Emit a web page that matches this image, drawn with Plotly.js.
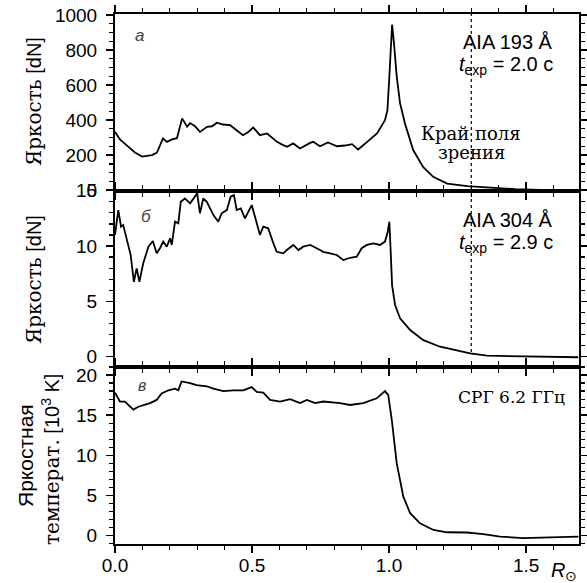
<!DOCTYPE html>
<html><head><meta charset="utf-8">
<script src="https://cdn.plot.ly/plotly-3.0.1.min.js"></script>
<style>body{margin:0;background:#fff}#plot{width:587px;height:583px}</style>
</head><body><div id="plot"></div>
<script>
// Panel а: AIA 193 Å brightness [dN]
const xA = [0.000,0.018,0.047,0.073,0.099,0.117,0.135,0.153,0.175,0.190,0.208,0.226,0.245,0.263,0.274,0.292,0.310,0.336,0.354,0.372,0.394,0.420,0.445,0.467,0.485,0.504,0.529,0.555,0.573,0.591,0.610,0.628,0.650,0.675,0.712,0.723,0.748,0.777,0.810,0.839,0.865,0.887,0.920,0.956,0.985,0.994,1.001,1.006,1.011,1.018,1.028,1.040,1.058,1.088,1.124,1.161,1.212,1.285,1.369,1.460,1.551];
const yA = [333,290,250,215,192,198,200,215,295,276,290,297,410,362,383,365,333,362,365,385,375,371,343,314,330,358,314,324,300,276,260,248,267,238,270,276,251,272,251,255,263,232,276,324,400,457,648,838,945,838,648,497,381,229,133,76,38,23,13,6,2];
// Panel б: AIA 304 Å brightness [dN]
const xB = [0.000,0.006,0.012,0.022,0.030,0.036,0.049,0.057,0.069,0.079,0.089,0.103,0.122,0.138,0.152,0.164,0.176,0.189,0.201,0.207,0.219,0.231,0.240,0.255,0.274,0.292,0.300,0.310,0.322,0.335,0.347,0.359,0.377,0.389,0.408,0.422,0.434,0.444,0.459,0.474,0.499,0.517,0.529,0.541,0.559,0.578,0.590,0.614,0.627,0.651,0.669,0.687,0.712,0.736,0.760,0.785,0.809,0.833,0.858,0.882,0.900,0.919,0.943,0.967,0.985,0.994,1.001,1.006,1.011,1.022,1.040,1.077,1.125,1.186,1.247,1.296,1.357,1.489,1.588,1.690];
const yB = [11.0,12.2,13.25,11.75,11.9,11.3,9.94,9.2,6.77,7.98,6.77,8.44,9.94,10.45,9.34,9.8,10.4,9.94,10.7,10.1,12.2,12.05,14.0,14.3,13.86,14.46,14.76,12.96,14.3,14.0,13.4,12.8,12.2,12.96,13.25,14.46,14.6,13.25,13.4,12.5,13.7,12.05,11.0,11.75,11.6,10.24,9.48,9.34,9.64,10.1,9.64,9.94,10.1,9.8,9.48,9.34,9.19,8.73,8.94,9.03,9.8,10.1,10.24,10.1,10.4,11.15,12.2,9.48,6.47,4.67,3.46,2.41,1.5,0.9,0.53,0.3,0.09,0.06,0.0,-0.05];
// Panel в: SRG 6.2 GHz brightness temperature [10^3 K]
const xC = [0.000,0.018,0.036,0.067,0.085,0.103,0.128,0.152,0.170,0.195,0.219,0.231,0.243,0.274,0.298,0.335,0.359,0.395,0.432,0.468,0.499,0.517,0.541,0.566,0.602,0.639,0.675,0.700,0.730,0.760,0.821,0.858,0.906,0.955,0.985,0.997,1.010,1.028,1.052,1.077,1.113,1.162,1.211,1.284,1.344,1.405,1.490,1.588,1.691];
const yC = [17.8,16.7,16.7,15.7,16.05,16.27,16.5,16.9,17.7,18.1,18.3,18.1,19.2,19.0,18.75,18.6,18.3,18.0,18.1,18.1,18.5,17.9,17.8,16.9,16.7,17.0,16.5,16.9,16.5,16.7,16.5,16.27,16.5,17.1,18.0,17.5,14.4,9.0,4.86,2.8,1.55,0.72,0.43,0.4,0.21,-0.1,-0.3,-0.2,-0.1];

const xTickVals = [0.0, 0.5, 1.0, 1.5];
const xTickText = ['0.0', '0.5', '1.0', '1.5'];

const line = {color:'#000', width:1.8};
const traces = [
  {x:xA, y:yA, xaxis:'x', yaxis:'y', mode:'lines', line:line, showlegend:false, hoverinfo:'skip'},
  {x:xB, y:yB, xaxis:'x2', yaxis:'y2', mode:'lines', line:line, showlegend:false, hoverinfo:'skip'},
  {x:xC, y:yC, xaxis:'x3', yaxis:'y3', mode:'lines', line:line, showlegend:false, hoverinfo:'skip'}
];

const tickFont = {family:'Liberation Sans, Arial, sans-serif', size:19, color:'#000'};
function xax(anchor, labels){
  return {anchor:anchor, domain:[0,1], range:[0,1.693], tickvals:xTickVals, ticktext:xTickText,
    showticklabels:labels, ticks:'outside', ticklen:7, tickwidth:1.5, tickcolor:'#000',
    minor:{dtick:0.1, ticks:'outside', ticklen:4, tickwidth:1.2, tickcolor:'#000'},
    showline:true, linecolor:'#000', linewidth:2, mirror:'ticks', showgrid:false, zeroline:false,
    tickfont:tickFont, ticklabelstandoff:-4};
}
function yax(anchor, dom, range, dtick, mdtick){
  return {anchor:anchor, domain:dom, range:range, dtick:dtick, tick0:0,
    ticks:'outside', ticklen:7, tickwidth:1.5, tickcolor:'#000',
    minor:{dtick:mdtick, tick0:0, ticks:'outside', ticklen:4, tickwidth:1.2, tickcolor:'#000'},
    showline:true, linecolor:'#000', linewidth:2, mirror:'ticks', showgrid:false, zeroline:false,
    tickfont:tickFont, ticklabelstandoff:5};
}

const serif = 'DejaVu Serif, serif';
const sans = 'Liberation Sans, Arial, sans-serif';
function ann(o){ return Object.assign({showarrow:false, xanchor:'center', yanchor:'middle', font:{family:sans, size:20, color:'#000'}}, o); }

const annotations = [
  ann({xref:'x', yref:'y', x:0.09, y:886, text:'<i>а</i>', font:{family:sans, size:17, color:'#444'}}),
  ann({xref:'x2', yref:'y2', x:0.115, y:12.65, text:'<i>б</i>', font:{family:sans, size:17, color:'#444'}}),
  ann({xref:'x3', yref:'y3', x:0.097, y:18.75, text:'<i>в</i>', font:{family:sans, size:16, color:'#444'}}),
  ann({xref:'x', yref:'y', x:0.83, y:-5, text:'<i>t</i>', font:{family:'Liberation Serif, serif', size:17, color:'#222'}}),
  ann({xref:'paper', yref:'paper', x:0.948, xanchor:'right', y:(544-42)/530, text:'AIA 193 Å'}),
  ann({xref:'paper', yref:'paper', x:0.948, xanchor:'right', y:(544-66)/530, text:'<i>t</i><sub>exp</sub> = 2.0 c'}),
  ann({xref:'paper', yref:'paper', x:0.948, xanchor:'right', y:(544-220)/530, text:'AIA 304 Å'}),
  ann({xref:'paper', yref:'paper', x:0.948, xanchor:'right', y:(544-243)/530, text:'<i>t</i><sub>exp</sub> = 2.9 c'}),
  ann({xref:'paper', yref:'paper', x:(567-115)/464, xanchor:'right', y:(544-397)/530, text:'СРГ 6.2 ГГц', font:{family:serif, size:17, color:'#000'}}),
  ann({xref:'x', yref:'y', x:1.3, y:326, text:'Край поля', font:{family:serif, size:18, color:'#000'}}),
  ann({xref:'x', yref:'y', x:1.3, y:217, text:'зрения', font:{family:serif, size:18, color:'#000'}}),
  ann({xref:'paper', yref:'paper', x:(34-115)/464, y:(544-102)/530, textangle:-90, text:'<span style="font-family:DejaVu Serif">Яркость</span> [dN]', font:{family:sans, size:20, color:'#000'}}),
  ann({xref:'paper', yref:'paper', x:(34-115)/464, y:(544-280)/530, textangle:-90, text:'<span style="font-family:DejaVu Serif">Яркость</span> [dN]', font:{family:sans, size:20, color:'#000'}}),
  ann({xref:'paper', yref:'paper', x:(25-115)/464, y:(544-456)/530, textangle:-90, text:'Яркостная', font:{family:sans, size:21, color:'#000'}}),
  ann({xref:'paper', yref:'paper', x:(51-115)/464, y:(544-460)/530, textangle:-90, text:'<span style="font-family:DejaVu Serif">температ.</span> [10<sup>3</sup> K]', font:{family:sans, size:20, color:'#000'}}),
  ann({xref:'paper', yref:'paper', x:(564-115)/464, y:-(571-544)/530, text:'<i>R</i><sub>⊙</sub>', font:{family:sans, size:20, color:'#000'}})
];

const layout = {
  width:587, height:583, margin:{l:115, r:8, t:14, b:39},
  paper_bgcolor:'#fff', plot_bgcolor:'#fff',
  xaxis: xax('y', false),
  xaxis2: xax('y2', false),
  xaxis3: xax('y3', true),
  yaxis: yax('x', [0.6666,1], [-3,1006], 200, 50),
  yaxis2: yax('x2', [0.334,0.6666], [-0.93,15.0], 5, 1),
  yaxis3: yax('x3', [0,0.334], [-1.03,21], 5, 1),
  shapes:[{type:'line', xref:'x', yref:'paper', x0:1.3, x1:1.3, y0:(544-352)/530, y1:1, line:{color:'#000', width:1.2, dash:'dot'}}],
  annotations: annotations
};
Plotly.newPlot('plot', traces, layout, {displayModeBar:false, staticPlot:true});
</script></body></html>
